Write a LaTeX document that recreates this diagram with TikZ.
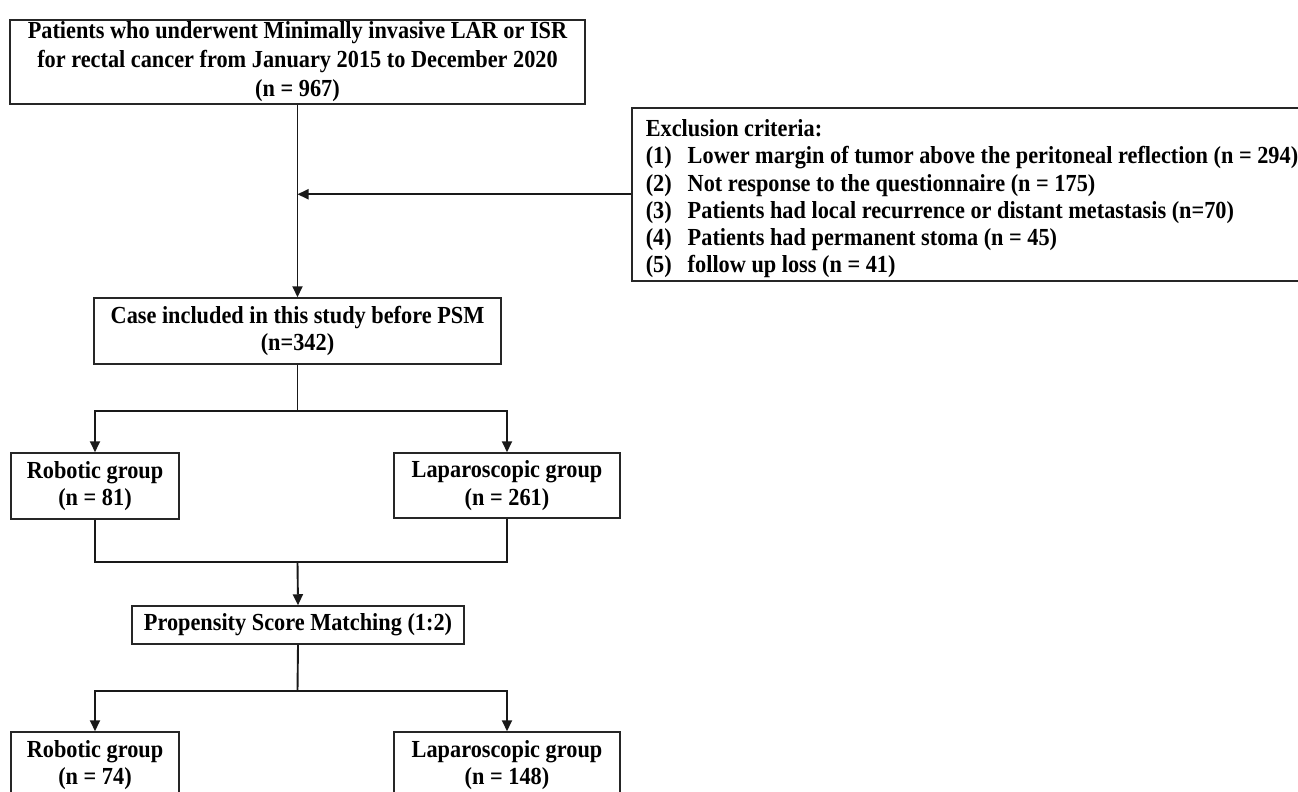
\documentclass[tikz,border=0pt]{standalone}
\usepackage{fontspec}
\setmainfont{Liberation Serif}[FakeStretch=0.91]
\usetikzlibrary{arrows.meta}
\begin{document}
\begin{tikzpicture}[x=1pt,y=-1pt,
  box/.style={draw=black!85,line width=1.5pt,align=center,inner sep=0pt,
    font=\fontsize{24.5}{27.5}\selectfont\bfseries},
  conn/.style={line width=1.9pt,draw=black!90},
  arr/.style={conn,-{Triangle[length=11pt,width=10pt]}}]
\useasboundingbox (0,0) rectangle (1298,792);
\clip (0,0) rectangle (1298,792);
\node[box,minimum width=575,minimum height=84,font=\fontsize{24.5}{29}\selectfont\bfseries] (top) at (297.5,62)
  {Patients who underwent Minimally invasive LAR or ISR\\for rectal cancer from January 2015 to December 2020\\(n = 967)};
\node[box,minimum width=407,minimum height=66] (inc) at (297.5,331)
  {Case included in this study before PSM\\(n=342)};
\node[box,minimum width=168,minimum height=66] (rob1) at (95,486) {Robotic group\\(n = 81)};
\node[box,minimum width=226,minimum height=65] (lap1) at (507,485.5) {Laparoscopic group\\(n = 261)};
\node[box,minimum width=332,minimum height=38] (psm) at (298,625) {Propensity Score Matching (1:2)};
\node[box,minimum width=168,minimum height=66] (rob2) at (95,765) {Robotic group\\(n = 74)};
\node[box,minimum width=226,minimum height=66] (lap2) at (507,765) {Laparoscopic group\\(n = 148)};
\node[box,align=left,anchor=north west,minimum height=173,inner xsep=14pt,
  font=\fontsize{24.5}{27.2}\selectfont\bfseries] (exc) at (631,107)
  {\rule{0pt}{26pt}Exclusion criteria:\\
   \makebox[42pt][l]{(1)}Lower margin of tumor above the peritoneal reflection (n = 294)\\
   \makebox[42pt][l]{(2)}Not response to the questionnaire (n = 175)\\
   \makebox[42pt][l]{(3)}Patients had local recurrence or distant metastasis (n=70)\\
   \makebox[42pt][l]{(4)}Patients had permanent stoma (n = 45)\\
   \makebox[42pt][l]{(5)}follow up loss (n = 41)};
\coordinate (j1) at (297.5,411);
\coordinate (j2) at (297.5,562);
\coordinate (j3) at (297.5,691);
\draw[arr] (top.south) -- (inc.north);
\draw[arr] (exc.west) -- (exc.west -| top.south);
\draw[conn] (inc.south) -- (j1);
\draw[arr] (j1) -| (rob1.north);
\draw[arr] (j1) -| (lap1.north);
\draw[conn] (rob1.south) |- (j2) -| (lap1.south);
\draw[arr] (j2) -- (psm.north);
\draw[conn] (psm.south) -- (j3);
\draw[arr] (j3) -| (rob2.north);
\draw[arr] (j3) -| (lap2.north);
\end{tikzpicture}
\end{document}
